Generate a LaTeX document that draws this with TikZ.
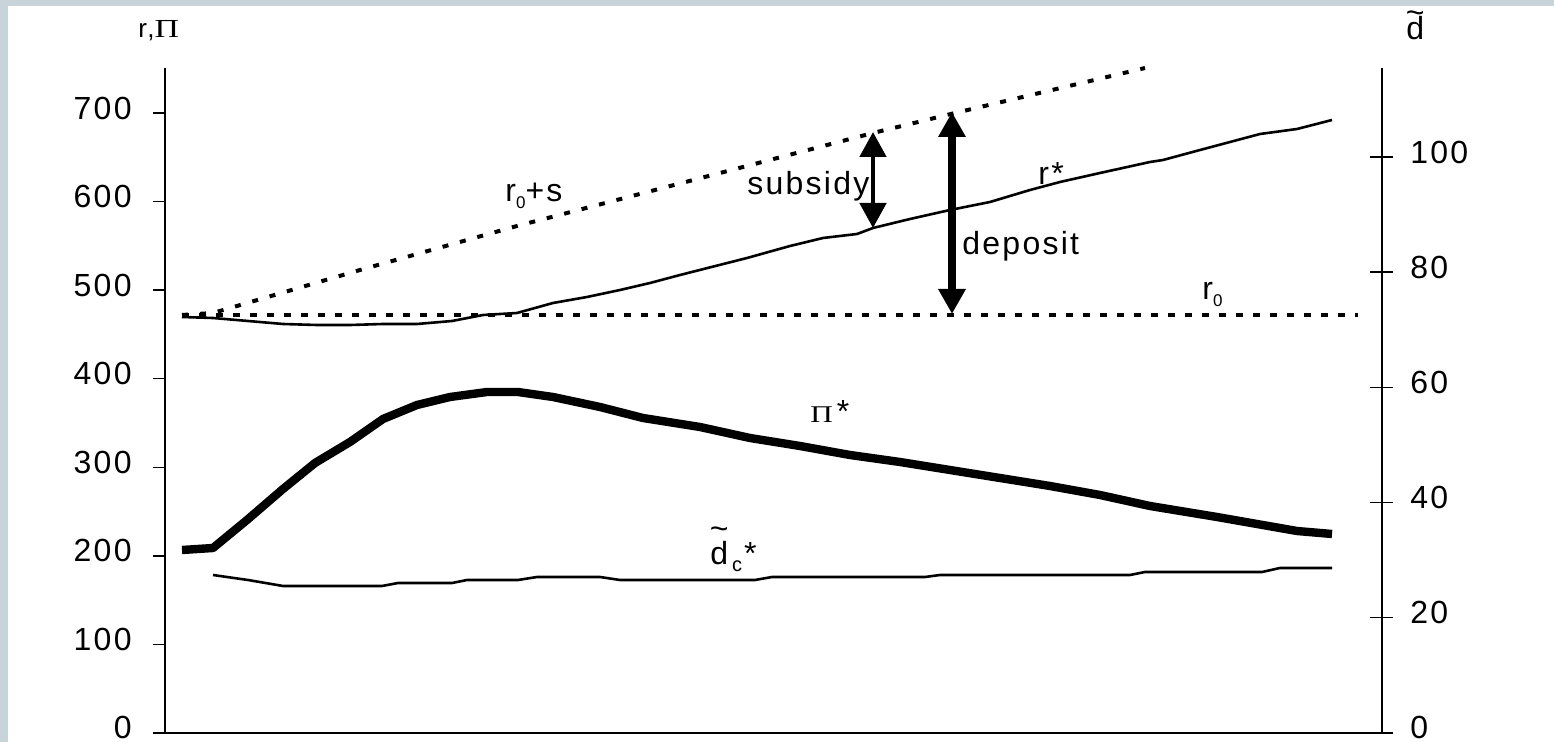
\documentclass[tikz,border=0pt]{standalone}
\usepackage{fontspec}
\setmainfont{Liberation Sans}[LetterSpace=7]
\newfontfamily\greekserif{Liberation Serif}
\usepackage{tikz}
\usetikzlibrary{arrows.meta}
\definecolor{framegray}{RGB}{200,211,218}
\newcommand{\dtil}[1]{\ooalign{d\cr\hidewidth\raisebox{#1}{\char"7E}\hidewidth\cr}}
\newcommand{\lowsub}[2][8.5]{{\fontsize{#1}{#1}\selectfont\raisebox{-3.5pt}{#2}}}

\begin{document}
\begin{tikzpicture}[x=0.5pt,y=-0.5pt,
    lab/.style={font=\fontsize{16}{19}\selectfont,inner sep=0pt},
    axis/.style={line width=0.7pt},
    thinline/.style={line width=1.3pt,line join=round},
    thickline/.style={line width=4.2pt,line join=round},
    baseline/.style={line width=2pt,dash pattern=on 3.5pt off 5pt},
    slopeline/.style={line width=2pt,dash pattern=on 3pt off 6pt},
    bigarrow/.style={arrows={Triangle[length=12.5pt,width=13pt]-Triangle[length=12.5pt,width=13pt]}}]
    \fill[white] (0,0) rectangle (1554,742);
    \fill[framegray] (0,0) rectangle (1554,6);
    \fill[framegray] (0,0) rectangle (8,742);

    \draw[axis] (165,68) -- (165,733);
    \draw[axis] (1382,68) -- (1382,733);
    \draw[axis] (153,733) -- (1393,733);

    \draw[axis] (153,113) -- (165,113);
    \draw[axis] (153,201.6) -- (165,201.6);
    \draw[axis] (153,290.1) -- (165,290.1);
    \draw[axis] (153,378.7) -- (165,378.7);
    \draw[axis] (153,467.3) -- (165,467.3);
    \draw[axis] (153,555.9) -- (165,555.9);
    \draw[axis] (153,644.4) -- (165,644.4);
    \node[lab,anchor=east] (l700) at (132,108) {700};
    \node[lab,anchor=east] (l600) at (132,196.6) {600};
    \node[lab,anchor=east] (l500) at (132,285.1) {500};
    \node[lab,anchor=east] (l400) at (132,373.7) {400};
    \node[lab,anchor=east] (l300) at (132,462.3) {300};
    \node[lab,anchor=east] (l200) at (132,550.9) {200};
    \node[lab,anchor=east] (l100) at (132,639.4) {100};
    \node[lab,anchor=east] (l0) at (132,727) {0};

    \draw[axis] (1370,157) -- (1393,157);
    \draw[axis] (1370,272.2) -- (1393,272.2);
    \draw[axis] (1370,387.4) -- (1393,387.4);
    \draw[axis] (1370,502.6) -- (1393,502.6);
    \draw[axis] (1370,617.8) -- (1393,617.8);
    \node[lab,anchor=west] (r100) at (1410,152) {100};
    \node[lab,anchor=west] (r80) at (1410,267.2) {80};
    \node[lab,anchor=west] (r60) at (1410,382.4) {60};
    \node[lab,anchor=west] (r40) at (1410,497.6) {40};
    \node[lab,anchor=west] (r20) at (1410,612.8) {20};
    \node[lab,anchor=west] (r0) at (1410,727) {0};

    \node[lab,font=\fontsize{13}{15}\selectfont,anchor=base west] (leftname) at (138,38) {r,\scalebox{1.3}[1]{\greekserif Π}};
    \node[lab,font=\fontsize{16}{18}\selectfont,anchor=base west] (rightname) at (1406,40) {\dtil{8pt}};

    \draw[baseline] (182,315) -- (1358,315);
    \draw[slopeline] (182,315) -- (213,313) -- (360,270) -- (517,226) -- (590,207) -- (873,133) -- (955,113) -- (1145,68);
    \draw[thinline] (182,317) -- (213,318) -- (248,321) -- (283,324) -- (317,325) -- (350,325) -- (383,324) -- (417,324) -- (452,321) -- (483,315) -- (517,313) -- (553,303) -- (587,297) -- (620,290) -- (650,283) -- (680,275) -- (747,258) -- (790,246) -- (823,238) -- (857,234) -- (873,228) -- (910,219) -- (950,210) -- (990,202) -- (1030,190) -- (1060,182) -- (1100,173) -- (1150,162) -- (1163,160) -- (1200,150) -- (1260,134) -- (1297,129) -- (1332,120);
    \draw[thickline] (182,550) -- (213,548) -- (247,520) -- (283,489) -- (315,463) -- (350,442) -- (383,419) -- (417,405) -- (450,397) -- (487,392) -- (518,392) -- (553,397) -- (600,407) -- (643,418) -- (700,427) -- (750,438) -- (800,446) -- (850,455) -- (900,462) -- (950,470) -- (1000,478) -- (1050,486) -- (1100,495) -- (1150,506) -- (1217,517) -- (1297,531) -- (1332,534);
    \draw[thinline] (213,575) -- (248,580) -- (283,586) -- (382,586) -- (398,583) -- (452,583) -- (467,580) -- (518,580) -- (537,577) -- (600,577) -- (620,580) -- (755,580) -- (772,577) -- (925,577) -- (940,575) -- (1130,575) -- (1145,572) -- (1262,572) -- (1280,568) -- (1332,568);

    \coordinate (subtop) at (873,132);
    \coordinate (subbot) at (873,228);
    \coordinate (deptop) at (952,112);
    \coordinate (depbot) at (952,314);
    \draw[bigarrow,line width=2.4pt] (subtop) -- (subbot);
    \draw[bigarrow,line width=3.8pt] (deptop) -- (depbot);

    \node[lab,anchor=base west] (rsublab) at (505,202) {r\lowsub{0}+s};
    \node[lab,anchor=base west] (sublab) at (747,195) {subsidy};
    \node[lab,anchor=base west] (deplab) at (962,255) {deposit};
    \node[lab,anchor=base west] (rstar) at (1038,185) {r*};
    \node[lab,anchor=base west] (rzero) at (1202,300) {r\lowsub{0}};
    \node[lab,anchor=base west] (pistar) at (810,423) {{\fontsize{12}{14}\selectfont\scalebox{1.3}[1]{\greekserif Π}}\hspace{2pt}*};
    \node[lab,anchor=base west] (dclab) at (710,565) {\dtil{12.5pt}\hspace{2pt}\lowsub[10]{c}\hspace{1pt}*};
\end{tikzpicture}
\end{document}
